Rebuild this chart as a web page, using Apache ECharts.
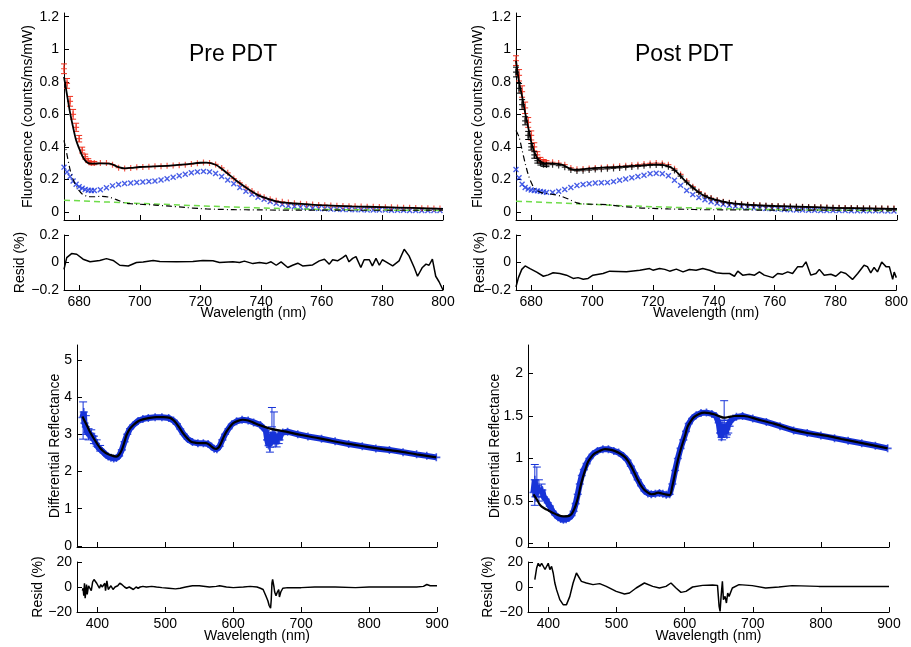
<!DOCTYPE html>
<html>
<head>
<meta charset="utf-8">
<script src="https://cdn.jsdelivr.net/npm/echarts@6/dist/echarts.min.js"></script>
<style>
  html, body { margin: 0; padding: 0; background: #fff; }
  #chart { width: 911px; height: 647px; }
</style>
</head>
<body>
<div id="chart"></div>
<script>
// ---- fluorescence (top row) ----
const fluorWl = [675,676,677,678,679,680,681,682,683,684,685,
  687,689,691,693,695,697,699,701,703,705,707,709,711,713,715,717,719,721,723,725,727,729,731,733,735,737,739,
  741,743,745,747,749,751,753,755,757,759,761,763,765,767,769,771,773,775,777,779,781,783,785,787,789,791,793,795,797,799];
const redPre = [0.88,0.79,0.68,0.60,0.52,0.45,0.38,0.34,0.315,0.30,0.30,
  0.30,0.30,0.29,0.272,0.266,0.27,0.274,0.276,0.278,0.28,0.281,0.283,0.285,0.287,0.29,0.294,0.299,0.303,0.301,0.292,0.27,0.24,0.205,0.178,0.152,0.128,0.108,
  0.09,0.078,0.068,0.062,0.057,0.053,0.05,0.047,0.045,0.043,0.041,0.039,0.038,0.036,0.035,0.034,0.033,0.032,0.031,0.03,0.029,0.028,0.027,0.026,0.025,0.024,0.023,0.022,0.021,0.02];
const redErrPre = [0.03,0.03,0.03,0.03,0.025,0.02,0.018,0.015,0.012,0.01,0.01];
const bluePre = [0.275,0.245,0.217,0.19,0.17,0.155,0.145,0.138,0.133,0.131,0.131,
  0.136,0.148,0.16,0.168,0.174,0.178,0.181,0.184,0.187,0.19,0.196,0.204,0.213,0.222,0.231,0.24,0.246,0.249,0.246,0.236,0.218,0.196,0.173,0.15,0.127,0.108,0.09,
  0.077,0.063,0.053,0.045,0.038,0.033,0.029,0.026,0.023,0.021,0.019,0.017,0.016,0.015,0.014,0.013,0.013,0.012,0.012,0.011,0.011,0.01,0.01,0.01,0.009,0.009,0.009,0.008,0.008,0.008];
const redPost = [0.93,0.84,0.74,0.64,0.55,0.47,0.40,0.35,0.32,0.31,0.305,
  0.305,0.30,0.29,0.27,0.262,0.263,0.267,0.27,0.272,0.275,0.277,0.28,0.283,0.286,0.29,0.294,0.298,0.30,0.298,0.29,0.265,0.23,0.19,0.155,0.125,0.102,0.085,
  0.072,0.063,0.056,0.051,0.047,0.044,0.042,0.04,0.038,0.036,0.035,0.034,0.033,0.032,0.031,0.03,0.029,0.028,0.027,0.026,0.025,0.024,0.024,0.023,0.022,0.022,0.021,0.021,0.02,0.02];
const redErrPost = [0.03,0.035,0.035,0.035,0.03,0.028,0.025,0.02,0.015,0.012,0.01];
const blackPost = [0.86,0.76,0.66,0.56,0.47,0.40,0.35,0.315,0.30,0.29,0.288,
  0.29,0.285,0.275,0.258,0.252,0.253,0.257,0.26,0.262,0.265,0.267,0.27,0.273,0.276,0.279,0.283,0.286,0.288,0.286,0.278,0.255,0.22,0.182,0.148,0.12,0.098,0.082,
  0.07,0.061,0.055,0.05,0.046,0.043,0.041,0.039,0.037,0.035,0.034,0.033,0.032,0.031,0.03,0.029,0.028,0.027,0.026,0.025,0.024,0.023,0.023,0.022,0.021,0.021,0.02,0.02,0.019,0.019];
const blackErrPost = [0.03,0.03,0.03,0.025,0.025,0.02,0.02,0.015,0.012,0.01,0.01];
const bluePost = [0.26,0.21,0.17,0.15,0.14,0.135,0.132,0.129,0.126,0.123,0.12,
  0.12,0.127,0.138,0.15,0.162,0.168,0.173,0.177,0.179,0.18,0.186,0.194,0.202,0.21,0.217,0.225,0.234,0.238,0.234,0.222,0.195,0.163,0.132,0.106,0.088,0.074,0.062,
  0.053,0.046,0.04,0.035,0.031,0.028,0.025,0.023,0.021,0.019,0.017,0.015,0.013,0.012,0.011,0.01,0.01,0.009,0.009,0.008,0.008,0.008,0.007,0.007,0.007,0.006,0.006,0.006,0.005,0.005];

const lineWl = [675,676,677,678,679,680,681,682,683,684,685,
  687,690,693,695,697,700,705,710,715,720,722,725,727,730,732,735,737,740,745,750,755,760,770,780,790,800];
const fitPre = [0.83,0.72,0.61,0.52,0.44,0.39,0.345,0.315,0.30,0.297,0.297,
  0.298,0.297,0.275,0.268,0.27,0.276,0.28,0.285,0.292,0.302,0.303,0.29,0.265,0.22,0.19,0.15,0.125,0.095,0.065,0.053,0.047,0.041,0.034,0.029,0.024,0.019];
const dashPre = [0.44,0.35,0.26,0.2,0.16,0.13,0.11,0.1,0.095,0.093,0.093,
  0.095,0.09,0.07,0.055,0.05,0.047,0.042,0.035,0.027,0.02,0.018,0.016,0.015,0.014,0.013,0.013,0.012,0.012,0.011,0.011,0.011,0.011,0.01,0.01,0.01,0.01];
const fitPost = [0.93,0.80,0.71,0.61,0.52,0.43,0.37,0.33,0.31,0.30,0.298,
  0.297,0.29,0.263,0.258,0.262,0.268,0.273,0.278,0.284,0.29,0.29,0.28,0.258,0.2,0.165,0.12,0.097,0.077,0.056,0.046,0.04,0.036,0.031,0.025,0.021,0.018];
const dashPost = [0.5,0.46,0.38,0.3,0.23,0.18,0.145,0.13,0.12,0.115,0.112,
  0.108,0.095,0.072,0.055,0.049,0.047,0.044,0.033,0.025,0.021,0.02,0.018,0.017,0.016,0.015,0.014,0.013,0.013,0.012,0.012,0.011,0.011,0.011,0.01,0.01,0.01];

const greenWl = [675,680,690,700,710,720,730,740,750,760,770,780,790,800];
const greenPre = [0.072,0.068,0.06,0.052,0.045,0.037,0.03,0.024,0.019,0.015,0.013,0.011,0.01,0.009];
const greenPost = [0.065,0.062,0.054,0.046,0.038,0.032,0.026,0.021,0.017,0.014,0.012,0.01,0.009,0.008];

// fluorescence residuals
const residPreWl = [675,675.9,677.5,679.2,681.3,683.6,686.8,689,691.2,693.4,696.2,698.9,701.1,704.4,706.6,712.1,717.5,720.8,724.1,726.3,
  730.7,732.9,734.5,737.3,739.5,741.7,743.3,745,746.6,748.8,750.4,752.1,753.7,757,759.2,760.9,762.5,763.6,765.2,766.9,
  768,769,770.2,771.3,772.9,774,775.7,776.7,777.9,779,780,781.2,783.4,785.5,787.2,788.8,790.5,791.6,793.2,794.4,795.4,796.5,797.6,798.7,800];
const residPre = [-0.05,0.035,0.065,0.06,0.024,0.005,0.015,0.028,0.015,-0.02,-0.025,0,0.004,0.015,0.008,0.005,0.008,0.015,0.012,0,
  0.005,0,0.01,-0.008,0,-0.008,0.005,-0.02,0.005,-0.036,-0.02,-0.005,-0.025,-0.018,0.012,0.024,-0.012,0.02,0.012,0.036,
  0.053,0.005,0.03,0.043,-0.036,0.02,0.02,-0.024,0.03,-0.02,0.02,0.005,-0.024,0.012,0.096,0.048,-0.036,-0.1,-0.036,-0.012,-0.02,0.024,-0.1,-0.14,-0.2];
const residPostWl = [675,675.8,676.9,678,679.6,681.8,684,685.6,687.2,689.4,691.6,693.8,695.4,697.1,698.7,700.3,703.6,705.8,711.3,715.7,
  718.9,720,722.2,723.9,725.5,727.7,729.9,732,734.2,736.4,738.6,740.8,743,745.2,746.8,747.9,749.5,751.7,753.4,755,
  756.6,759.4,761,762.6,764.3,765.9,767.6,769.2,770.3,771.9,773.6,774.7,776.3,778.5,780.1,781.8,783.4,785.6,787.3,789.4,
  790.5,791.6,792.7,793.8,795.2,796.6,797.7,798.8,799.3,800];
const residPost = [-0.177,-0.11,-0.05,-0.025,-0.045,-0.07,-0.1,-0.09,-0.075,-0.08,-0.092,-0.116,-0.11,-0.122,-0.116,-0.092,-0.08,-0.063,-0.068,-0.056,
  -0.044,-0.056,-0.044,-0.05,-0.063,-0.048,-0.068,-0.051,-0.056,-0.044,-0.056,-0.075,-0.08,-0.08,-0.1,-0.063,-0.092,-0.085,-0.092,-0.068,
  -0.092,-0.11,-0.08,-0.085,-0.068,-0.08,-0.03,-0.03,0.005,-0.092,-0.08,-0.05,-0.092,-0.085,-0.1,-0.068,-0.08,-0.123,-0.08,-0.02,
  -0.03,-0.075,-0.036,-0.068,0.003,-0.03,-0.03,-0.123,-0.07,-0.11];

// ---- differential reflectance (bottom row) ----
const reflFitPreWl = [378,385,389,395,404,412,418,428,432,436,440,443,448,453,460,467,477,487,497,507,
  512,516,521,526,532,538,545,551,560,565,568,572,575,579,582,586,590,595,600,607,
  614,622,629,640,653,665,678,700,727,746,770,795,820,844,870,899];
const reflFitPre = [3.48,3.22,3.07,2.88,2.63,2.5,2.45,2.40,2.45,2.58,2.8,2.98,3.15,3.25,3.35,3.40,3.44,3.46,3.46,3.44,
  3.38,3.30,3.17,3.03,2.9,2.80,2.77,2.76,2.76,2.72,2.67,2.62,2.61,2.66,2.76,2.93,3.07,3.2,3.30,3.36,
  3.39,3.37,3.32,3.24,3.16,3.11,3.07,2.98,2.89,2.82,2.74,2.67,2.6,2.54,2.46,2.38];
const reflDataPreWl = [378,380,381,383,385,387,389,391,393,395,398,401,404,407,410,413,416,420,424,428,
  432,436,440,444,448,453,460,467,475,485,495,505,512,517,522,527,533,540,548,556,
  563,568,572,576,580,584,588,593,598,605,613,622,630,640,648,650,652,654,656,658,
  660,662,664,666,668,670,673,680,695,710,730,750,770,790,810,830,850,870,885,899];
const reflDataPre = [3.45,3.6,3.3,3.2,3.05,3.0,2.98,3.02,2.95,2.85,2.75,2.65,2.6,2.55,2.5,2.44,2.4,2.37,2.35,2.36,
  2.42,2.58,2.8,3.0,3.15,3.25,3.36,3.41,3.44,3.46,3.46,3.44,3.37,3.28,3.14,3.0,2.87,2.79,2.76,2.76,
  2.74,2.67,2.61,2.6,2.68,2.85,3.0,3.15,3.27,3.35,3.39,3.37,3.32,3.25,3.1,2.85,2.7,2.65,2.8,3.05,
  2.95,2.75,2.9,3.0,2.85,3.0,3.05,3.07,3.0,2.94,2.88,2.81,2.74,2.68,2.62,2.58,2.52,2.46,2.42,2.38];
const reflErrPreWl = [379,383,387,391,395,399,404,654,657,660,664,667];
const reflErrPreLo = [2.87,3.0,2.85,2.9,2.75,2.68,2.55,2.52,3.2,2.9,2.66,2.75];
const reflErrPreHi = [3.87,3.5,3.15,3.12,2.95,2.85,2.7,2.85,3.72,3.6,3.0,3.1];

const reflFitPostWl = [378,383,388,395,400,407,414,422,429,433,436,440,444,447,451,455,458,463,468,475,
  483,490,497,505,512,517,522,527,531,536,541,546,551,556,561,566,571,578,582,586,
  590,594,597,601,604,609,614,621,629,636,643,650,658,665,673,687,707,731,758,780,
  807,830,855,877,898];
const reflFitPost = [0.58,0.52,0.45,0.41,0.39,0.36,0.335,0.32,0.322,0.34,0.375,0.45,0.56,0.67,0.79,0.89,0.96,1.02,1.06,1.09,
  1.11,1.105,1.09,1.06,1.02,0.97,0.9,0.82,0.75,0.68,0.63,0.6,0.58,0.585,0.6,0.59,0.58,0.57,0.68,0.83,
  0.98,1.1,1.18,1.28,1.37,1.44,1.49,1.525,1.54,1.535,1.52,1.5,1.48,1.49,1.5,1.5,1.46,1.41,1.34,1.3,
  1.27,1.23,1.19,1.155,1.12];
const reflDataPostWl = [378,380,381,383,385,387,389,391,393,396,399,402,406,410,414,418,422,426,430,434,
  437,440,443,446,449,452,456,460,465,472,480,488,496,503,510,516,521,526,531,536,
  541,546,551,557,563,568,573,578,582,586,590,594,598,602,606,611,617,624,632,640,
  646,650,652,654,656,658,660,662,664,666,668,671,676,685,700,720,740,760,780,800,
  820,840,860,880,898];
const reflDataPost = [0.6,0.75,0.55,0.68,0.62,0.65,0.6,0.63,0.55,0.52,0.48,0.44,0.38,0.34,0.31,0.29,0.28,0.285,0.3,0.33,
  0.38,0.47,0.58,0.7,0.8,0.87,0.94,1.0,1.05,1.09,1.11,1.11,1.09,1.07,1.03,0.98,0.91,0.83,0.75,0.68,
  0.62,0.59,0.58,0.585,0.595,0.585,0.575,0.58,0.7,0.86,1.0,1.12,1.22,1.32,1.41,1.47,1.51,1.535,1.54,1.525,
  1.5,1.42,1.3,1.25,1.35,1.4,1.3,1.28,1.4,1.38,1.45,1.47,1.49,1.5,1.47,1.43,1.38,1.33,1.3,1.27,
  1.24,1.21,1.18,1.15,1.12];
const reflErrPostWl = [380,383,386,390,655,658,661,664];
const reflErrPostLo = [0.45,0.55,0.5,0.55,1.22,1.45,1.25,1.3];
const reflErrPostHi = [0.93,0.9,0.75,0.7,1.45,1.68,1.42,1.45];

// reflectance residuals
const reflResPreWl = [378,379,380,381,382,383,384,385,386,387,389,391,393,395,397,399,401,403,405,407,
  409,411,412,414,416,418,420,423,426,430,433,436,440,443,447,450,453,457,460,463,
  467,472,480,487,495,505,515,522,530,540,550,565,575,580,590,600,615,625,635,640,
  644,648,651,653,655,656,657,658,659,660,661,663,665,667,668,670,673,680,700,720,
  750,780,800,820,850,870,880,885,890,900];
const reflResPre = [-3,-1,-7,3,-9,-10,2,-6,-6,1,2,-3,4,6,7,3,4,-1,2,0,
  -1,3,-3,5,-2,-1,1,-2,0,1,3,2,0,-1,0,-1,-2,0,-1,0,
  0.5,0,0.5,0,-0.5,-1,-1.5,-1,0,1,1,0,0.5,1,0,-0.5,0,0.5,0,-1,
  -2,-7,-11,-15,-17,-10,3,6,7,0,-4,-7,-4,-2,-8,-4,-1,-0.5,-0.5,0,
  0,-0.5,0,0,0,0,0.5,2,1,1];
const reflResPostWl = [380,382.7,385,387.5,390,392.4,395,397.3,399.7,402.1,404.6,407,409.4,411.9,414.3,416.7,421.6,426.5,431.4,436.2,
  441.1,443.5,448.4,455.7,465.4,475.2,484.9,499.5,511.7,519,528.8,540.9,553.1,562.9,572.6,579.9,587.3,594.6,601.9,611.6,
  626.3,640.9,648.2,650.6,652,653.5,655.4,656.9,659.3,661.3,663.2,665.2,670,679.8,699.3,718.8,738.3,757.8,796.8,845.5,
  894.2,900];
const reflResPost = [5.9,15.2,19,16.5,19,17.9,14,15.2,19,13.9,16.5,11.2,3.2,-2.1,-6.1,-10.1,-14.1,-14.1,-7.5,3.2,
  11.2,12.5,4.5,3.2,1.9,2.7,0.5,-3.5,-5.6,-4.8,-0.8,3.2,0.5,-0.8,0.5,3.2,-0.8,-4.3,-3.5,0,
  1.3,1.6,1.3,-15.5,-19.5,-7.5,4.5,-10.1,-7.5,-12.8,-4.8,-7.5,-0.8,1.9,1.1,-0.8,0,1.1,0.5,0.5,
  0.5,0.5];

// ---- ticks ----
const fluorXTicks = [680,700,720,740,760,780,800];
const fluorYTicks = [0,0.2,0.4,0.6,0.8,1,1.2];
const residYTicks = [-0.2,0,0.2];
const reflXTicks = [400,500,600,700,800,900];
const reflPreYTicks = [0,1,2,3,4,5];
const reflPostYTicks = [0,0.5,1,1.5,2];
const reflResYTicks = [-20,0,20];

const FONT = 'Liberation Sans, Arial, Helvetica, sans-serif';
const RED = '#f0301e', BLUE = '#1a36e0', DBLUE = '#1733d8', GREEN = '#6fdc4a';
const PLUS = 'path://M0,4H10V6H0Z M4,0H6V10H4Z';

const zip = (xs, ys) => xs.map((x, i) => [x, ys[i]]);
const errRows = (xs, ys, es) => es.map((e, i) => [xs[i], ys[i] - e, ys[i] + e]);
const loHi = (xs, lo, hi) => xs.map((x, i) => [x, lo[i], hi[i]]);
const fmt = v => (v < 0 ? '\u2212' + (-v) : String(v));

function axis(gi, min, max, ticks, opt) {
  opt = opt || {};
  return Object.assign({
    type: 'value', gridIndex: gi, min: min, max: max,
    axisLine: { show: true, onZero: false, lineStyle: { color: '#000', width: 1 } },
    axisTick: { show: true, inside: true, length: 5, customValues: ticks, lineStyle: { color: '#000' } },
    axisLabel: { show: opt.labels !== false, customValues: ticks, formatter: fmt, color: '#000',
      fontSize: 14, fontFamily: FONT, margin: 5 },
    splitLine: { show: false },
    nameLocation: 'middle',
    nameMoveOverlap: false,
    nameTextStyle: { color: '#000', fontSize: 14, fontFamily: FONT }
  }, opt.extra || {});
}

function errRender(color, cap) {
  return function (params, api) {
    const x = api.value(0);
    const lo = api.coord([x, api.value(1)]);
    const hi = api.coord([x, api.value(2)]);
    const st = { stroke: color, lineWidth: 1 };
    return { type: 'group', children: [
      { type: 'line', shape: { x1: lo[0], y1: lo[1], x2: hi[0], y2: hi[1] }, style: st },
      { type: 'line', shape: { x1: lo[0] - cap, y1: lo[1], x2: lo[0] + cap, y2: lo[1] }, style: st },
      { type: 'line', shape: { x1: hi[0] - cap, y1: hi[1], x2: hi[0] + cap, y2: hi[1] }, style: st }
    ] };
  };
}

function lineS(gi, data, color, width, dash, smooth) {
  return { type: 'line', xAxisIndex: gi, yAxisIndex: gi, data: data, showSymbol: false, symbol: 'none',
    smooth: smooth || false, lineStyle: { color: color, width: width, type: dash || 'solid' }, silent: true, z: 3 };
}
function markS(gi, data, color, size, rotate, z) {
  return { type: 'scatter', xAxisIndex: gi, yAxisIndex: gi, data: data, symbol: PLUS, symbolSize: size,
    symbolRotate: rotate || 0, itemStyle: { color: color }, silent: true, z: z || 2 };
}
function errS(gi, data, color, cap) {
  return { type: 'custom', xAxisIndex: gi, yAxisIndex: gi, data: data, renderItem: errRender(color, cap),
    encode: { x: 0, y: [1, 2] }, silent: true, z: 2 };
}

const grids = [
  { left: 64, top: 13, width: 379, height: 207 },
  { left: 64, top: 235, width: 379, height: 55 },
  { left: 516, top: 13, width: 381, height: 207 },
  { left: 516, top: 235, width: 381, height: 55 },
  { left: 77, top: 345, width: 360, height: 202 },
  { left: 77, top: 562, width: 360, height: 50 },
  { left: 528, top: 345, width: 361, height: 202 },
  { left: 528, top: 562, width: 361, height: 50 }
];

const xAxes = [
  axis(0, 675, 800, fluorXTicks, { labels: false }),
  axis(1, 675, 800, fluorXTicks, { extra: { name: 'Wavelength (nm)', nameGap: 16 } }),
  axis(2, 675, 800, fluorXTicks, { labels: false }),
  axis(3, 675, 800, fluorXTicks, { extra: { name: 'Wavelength (nm)', nameGap: 16 } }),
  axis(4, 370, 900, reflXTicks, { labels: false }),
  axis(5, 370, 900, reflXTicks, { extra: { name: 'Wavelength (nm)', nameGap: 17 } }),
  axis(6, 370, 900, reflXTicks, { labels: false }),
  axis(7, 370, 900, reflXTicks, { extra: { name: 'Wavelength (nm)', nameGap: 17 } })
];
const yAxes = [
  axis(0, -0.05, 1.223, fluorYTicks, { extra: { name: 'Fluoresence (counts/ms/mW)', nameGap: 29 } }),
  axis(1, -0.2, 0.2, residYTicks, { extra: { name: 'Resid (%)', nameGap: 37 } }),
  axis(2, -0.05, 1.223, fluorYTicks, { extra: { name: 'Fluoresence (counts/ms/mW)', nameGap: 31 } }),
  axis(3, -0.2, 0.2, residYTicks, { extra: { name: 'Resid (%)', nameGap: 29 } }),
  axis(4, -0.03, 5.4, reflPreYTicks, { extra: { name: 'Differential Reflectance', nameGap: 15 } }),
  axis(5, -20, 20, reflResYTicks, { extra: { name: 'Resid (%)', nameGap: 32 } }),
  axis(6, -0.04, 2.335, reflPostYTicks, { extra: { name: 'Differential Reflectance', nameGap: 26 } }),
  axis(7, -20, 20, reflResYTicks, { extra: { name: 'Resid (%)', nameGap: 33 } })
];

const series = [
  // Pre PDT fluorescence
  lineS(0, zip(greenWl, greenPre), GREEN, 1.5, [6, 4]),
  lineS(0, zip(lineWl, dashPre), '#000', 1.2, [6, 3, 1, 3], 0.3),
  markS(0, zip(fluorWl, bluePre), BLUE, 7, 45),
  errS(0, errRows(fluorWl, redPre, redErrPre), RED, 3),
  markS(0, zip(fluorWl, redPre), RED, 6),
  lineS(0, zip(lineWl, fitPre), '#000', 1.8, 'solid', 0.3),
  lineS(1, zip(residPreWl, residPre), '#000', 1.5),
  // Post PDT fluorescence
  lineS(2, zip(greenWl, greenPost), GREEN, 1.5, [6, 4]),
  lineS(2, zip(lineWl, dashPost), '#000', 1.2, [6, 3, 1, 3], 0.3),
  markS(2, zip(fluorWl, bluePost), BLUE, 7, 45),
  errS(2, errRows(fluorWl, redPost, redErrPost), RED, 3),
  markS(2, zip(fluorWl, redPost), RED, 6),
  errS(2, errRows(fluorWl, blackPost, blackErrPost), '#000', 3),
  markS(2, zip(fluorWl, blackPost), '#000', 6),
  lineS(2, zip(lineWl, fitPost), '#000', 1.8, 'solid', 0.3),
  lineS(3, zip(residPostWl, residPost), '#000', 1.5),
  // Pre PDT reflectance
  lineS(4, zip(reflDataPreWl, reflDataPre), DBLUE, 6),
  markS(4, zip(reflDataPreWl, reflDataPre), DBLUE, 8),
  errS(4, loHi(reflErrPreWl, reflErrPreLo, reflErrPreHi), DBLUE, 4),
  lineS(4, zip(reflFitPreWl, reflFitPre), '#000', 2.2, 'solid', 0.3),
  lineS(5, zip(reflResPreWl, reflResPre), '#000', 1.5),
  // Post PDT reflectance
  lineS(6, zip(reflDataPostWl, reflDataPost), DBLUE, 6),
  markS(6, zip(reflDataPostWl, reflDataPost), DBLUE, 8),
  errS(6, loHi(reflErrPostWl, reflErrPostLo, reflErrPostHi), DBLUE, 4),
  lineS(6, zip(reflFitPostWl, reflFitPost), '#000', 2.2, 'solid', 0.3),
  lineS(7, zip(reflResPostWl, reflResPost), '#000', 1.5)
];

const chart = echarts.init(document.getElementById('chart'));
chart.setOption({
  backgroundColor: '#fff',
  animation: false,
  textStyle: { fontFamily: FONT },
  grid: grids,
  xAxis: xAxes,
  yAxis: yAxes,
  graphic: [
    { type: 'text', left: 189, top: 43, style: { text: 'Pre PDT', font: '23px ' + FONT, fill: '#000' } },
    { type: 'text', left: 635, top: 43, style: { text: 'Post PDT', font: '23px ' + FONT, fill: '#000' } }
  ],
  series: series
});
</script>
</body>
</html>
